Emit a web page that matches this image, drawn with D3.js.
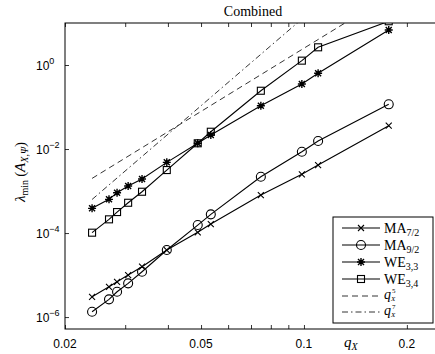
<!DOCTYPE html>
<html>
<head>
<meta charset="utf-8">
<script src="https://cdn.jsdelivr.net/npm/d3@7"></script>
<style>
  body { margin: 0; background: #fff; }
</style>
</head>
<body>
<script>
// values
const qX = [0.0240, 0.0269, 0.0284, 0.0306, 0.0336, 0.0397, 0.0489, 0.0534, 0.0748, 0.0986, 0.110, 0.177];
const ma72 = [3.04e-6, 5.26e-6, 6.92e-6, 1.0e-5, 1.58e-5, 3.94e-5, 1.04e-4, 1.64e-4, 8.03e-4, 2.50e-3, 4.16e-3, 3.59e-2];
const ma92 = [1.34e-6, 2.64e-6, 4.00e-6, 6.34e-6, 1.20e-5, 3.94e-5, 1.55e-4, 2.79e-4, 2.19e-3, 8.63e-3, 1.55e-2, 0.116];
const we33 = [3.87e-4, 6.34e-4, 9.12e-4, 1.32e-3, 1.93e-3, 4.82e-3, 1.37e-2, 2.16e-2, 0.107, 0.353, 0.634, 6.81];
const we34 = [1.02e-4, 2.12e-4, 3.16e-4, 5.26e-4, 9.62e-4, 3.16e-3, 1.37e-2, 2.58e-2, 0.244, 1.27, 2.64, 11.0];

// reference slopes, end points only
const refQ = [0.024, 0.177];
const q5 = [2.0e-3, 43.6];
const q7 = [6.3e-4, 747];

const xTicks = [0.02, 0.03, 0.04, 0.05, 0.06, 0.07, 0.08, 0.09, 0.1, 0.2];
const xLabels = [0.02, 0.05, 0.1, 0.2];
const yTicks = [1e-6, 1e-4, 1e-2, 1];
const yExp = ["\u22126", "\u22124", "\u22122", "0"];

const svg = d3.select("body").append("svg")
  .attr("width", 435)
  .attr("height", 354);

const x = d3.scaleLog().domain([0.02, 0.25]).range([65, 440]);
const y = d3.scaleLog().domain([5.2e-7, 10]).range([329, 23]);

svg.append("defs").append("clipPath").attr("id", "plotclip")
  .append("rect").attr("x", 65).attr("y", 23).attr("width", 375).attr("height", 306);

// axes (ticks point inward)
function cleanAxis(g) {
  g.select(".domain").remove();
  g.selectAll(".tick line").attr("stroke", "#000").attr("stroke-width", 0.8);
}
svg.append("g").attr("transform", "translate(0,329)")
  .call(d3.axisBottom(x).tickValues(xTicks).tickSize(-4).tickFormat(""))
  .call(cleanAxis);
svg.append("g").attr("transform", "translate(0,23)")
  .call(d3.axisTop(x).tickValues(xTicks).tickSize(-4).tickFormat(""))
  .call(cleanAxis);
svg.append("g").attr("transform", "translate(65,0)")
  .call(d3.axisLeft(y).tickValues(yTicks).tickSize(-4).tickFormat(""))
  .call(cleanAxis);

svg.append("rect")
  .attr("x", 65).attr("y", 23).attr("width", 375).attr("height", 306)
  .attr("fill", "none").attr("stroke", "#000").attr("stroke-width", 1);

// tick labels
const sans = "'Liberation Sans', Arial, Helvetica, sans-serif";
svg.selectAll(".xlab").data(xLabels).enter().append("text")
  .attr("x", d => x(d))
  .attr("y", 348)
  .attr("text-anchor", "middle")
  .attr("font-family", sans)
  .attr("font-size", 12)
  .text(d => d);

const ylab = svg.selectAll(".ylab").data(yTicks).enter().append("text")
  .attr("x", 36)
  .attr("y", d => y(d) + 5)
  .attr("font-family", sans)
  .attr("font-size", 12);
ylab.append("tspan").text("10");
ylab.append("tspan").attr("dy", -6).attr("font-size", 9).text((d, i) => yExp[i]);

// title and axis labels
const serif = "'Liberation Serif', 'DejaVu Serif', serif";
svg.append("text")
  .attr("x", 253).attr("y", 16)
  .attr("text-anchor", "middle")
  .attr("font-family", serif)
  .attr("font-size", 14)
  .text("Combined");

const xl = svg.append("text")
  .attr("x", 344).attr("y", 347)
  .attr("font-family", serif)
  .attr("font-size", 15)
  .attr("font-style", "italic");
xl.append("tspan").text("q");
xl.append("tspan").attr("dy", 3).attr("font-size", 10).text("X");

const yl = svg.append("text")
  .attr("transform", "translate(25,172) rotate(-90)")
  .attr("text-anchor", "middle")
  .attr("font-family", serif)
  .attr("font-size", 15);
yl.append("tspan").attr("font-style", "italic").text("\u03bb");
yl.append("tspan").attr("dy", 3).attr("font-size", 10).text("min");
yl.append("tspan").attr("dy", -3).text("\u2009(");
yl.append("tspan").attr("font-style", "italic").text("A");
yl.append("tspan").attr("dy", 3).attr("font-size", 10).attr("font-style", "italic").text("X,\u03a8");
yl.append("tspan").attr("dy", -3).text(")");

// marker shapes
function marker(g, type, cx, cy) {
  if (type === "x") {
    g.append("path").attr("d", `M${cx-3},${cy-3}L${cx+3},${cy+3}M${cx-3},${cy+3}L${cx+3},${cy-3}`)
      .attr("stroke", "#000").attr("stroke-width", 1.1);
  } else if (type === "o") {
    g.append("circle").attr("cx", cx).attr("cy", cy).attr("r", 4.5)
      .attr("fill", "none").attr("stroke", "#000").attr("stroke-width", 1.1);
  } else if (type === "*") {
    g.append("path").attr("d",
      `M${cx-4},${cy}L${cx+4},${cy}M${cx},${cy-4}L${cx},${cy+4}` +
      `M${cx-3},${cy-3}L${cx+3},${cy+3}M${cx-3},${cy+3}L${cx+3},${cy-3}`)
      .attr("stroke", "#000").attr("stroke-width", 1.4);
  } else if (type === "s") {
    g.append("rect").attr("x", cx - 3.5).attr("y", cy - 3.5).attr("width", 7).attr("height", 7)
      .attr("fill", "none").attr("stroke", "#000").attr("stroke-width", 1.1);
  }
}

const series = [
  { name: "MA", sub: "7/2", vals: ma72, mark: "x" },
  { name: "MA", sub: "9/2", vals: ma92, mark: "o" },
  { name: "WE", sub: "3,3", vals: we33, mark: "*" },
  { name: "WE", sub: "3,4", vals: we34, mark: "s" }
];
const refs = [
  { sub: "5", vals: q5, dash: "6,4" },
  { sub: "7", vals: q7, dash: "6,3,1.5,3" }
];

const plot = svg.append("g").attr("clip-path", "url(#plotclip)");
const line = d3.line().x(d => x(d[0])).y(d => y(d[1]));

refs.forEach(r => {
  plot.append("path")
    .attr("d", line(refQ.map((q, i) => [q, r.vals[i]])))
    .attr("fill", "none").attr("stroke", "#000").attr("stroke-width", 0.8)
    .attr("stroke-dasharray", r.dash);
});

series.forEach(s => {
  const pts = qX.map((q, i) => [q, s.vals[i]]);
  plot.append("path")
    .attr("d", line(pts))
    .attr("fill", "none").attr("stroke", "#000").attr("stroke-width", 1.1);
  pts.forEach(p => marker(plot, s.mark, x(p[0]), y(p[1])));
});

// legend
const lg = svg.append("g");
lg.append("rect").attr("x", 333).attr("y", 217).attr("width", 100).attr("height", 106)
  .attr("fill", "#fff").attr("stroke", "#000").attr("stroke-width", 1);
const rowY = [228, 245, 262, 279, 296, 312];
series.forEach((s, i) => {
  const ry = rowY[i];
  lg.append("line").attr("x1", 342).attr("x2", 380).attr("y1", ry).attr("y2", ry)
    .attr("stroke", "#000").attr("stroke-width", 1.1);
  marker(lg, s.mark, 361, ry);
  const t = lg.append("text").attr("x", 384).attr("y", ry + 5)
    .attr("font-family", serif).attr("font-size", 14);
  t.append("tspan").text(s.name);
  t.append("tspan").attr("dy", 3).attr("font-size", 10).text(s.sub);
});
refs.forEach((r, i) => {
  const ry = rowY[4 + i];
  lg.append("line").attr("x1", 342).attr("x2", 380).attr("y1", ry).attr("y2", ry)
    .attr("stroke", "#000").attr("stroke-width", 0.8).attr("stroke-dasharray", r.dash);
  const t = lg.append("text").attr("x", 384).attr("y", ry + 3)
    .attr("font-family", serif).attr("font-size", 14).attr("font-style", "italic");
  t.append("tspan").text("q");
  t.append("tspan").attr("x", 391).attr("dy", 2).attr("font-size", 7).text("X");
  t.append("tspan").attr("x", 392).attr("dy", -8).attr("font-size", 7).attr("font-style", "normal").text(r.sub);
});
</script>
</body>
</html>
